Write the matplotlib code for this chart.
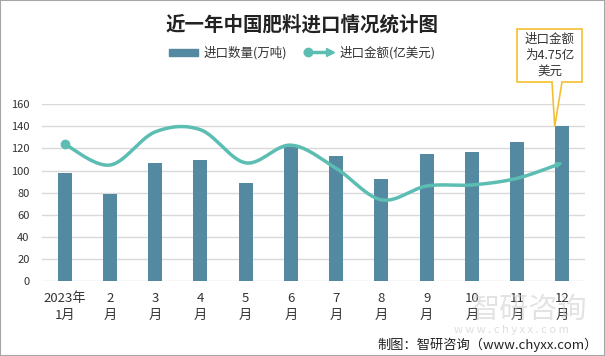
import numpy as np
import matplotlib
matplotlib.use("Agg")
import matplotlib.pyplot as plt
from matplotlib.lines import Line2D
from matplotlib.patches import Rectangle, Polygon, Patch
from matplotlib.legend_handler import HandlerBase

plt.rcParams['font.family'] = ['Noto Sans CJK SC', 'DejaVu Sans']

# data
months = ["2023年\n1月", "2\n月", "3\n月", "4\n月", "5\n月", "6\n月",
          "7\n月", "8\n月", "9\n月", "10\n月", "11\n月", "12\n月"]
qty = [98, 79, 107, 110, 89, 121, 113, 92, 115, 117, 126, 140]          # 万吨
amount = [124, 105, 135, 137, 107, 123, 102, 73.5, 86, 87, 93, 107]     # line, on the same scale
yticks = [0, 20, 40, 60, 80, 100, 120, 140, 160]

bar_color = '#5489a2'
line_color = '#5cbdb3'
yellow = '#f5c02f'


def smooth(xs, ys, n=30):
    # Excel-style smoothed line (Catmull-Rom bezier)
    xs = np.asarray(xs, float)
    ys = np.asarray(ys, float)
    px = np.concatenate([[xs[0]], xs, [xs[-1]]])
    py = np.concatenate([[ys[0]], ys, [ys[-1]]])
    outx, outy = [], []
    t = np.linspace(0, 1, n)
    for i in range(1, len(px) - 2):
        p0 = np.array([px[i], py[i]])
        p3 = np.array([px[i + 1], py[i + 1]])
        c1 = p0 + (np.array([px[i + 1], py[i + 1]]) - np.array([px[i - 1], py[i - 1]])) / 6
        c2 = p3 - (np.array([px[i + 2], py[i + 2]]) - np.array([px[i], py[i]])) / 6
        b = ((1 - t) ** 3)[:, None] * p0 + (3 * (1 - t) ** 2 * t)[:, None] * c1 \
            + (3 * (1 - t) * t ** 2)[:, None] * c2 + (t ** 3)[:, None] * p3
        outx.extend(b[:, 0])
        outy.extend(b[:, 1])
    return np.array(outx), np.array(outy)


class ArrowLineHandler(HandlerBase):
    def create_artists(self, legend, orig_handle, xdescent, ydescent,
                       width, height, fontsize, trans):
        y = height / 2 - ydescent
        ln = Line2D([0, width - 3], [y, y], color=line_color, lw=2.5, transform=trans)
        dot = Line2D([2], [y], marker='o', ms=6, color=line_color, transform=trans)
        tip = Line2D([width - 3], [y], marker='>', ms=6, color=line_color, transform=trans)
        return [ln, dot, tip]


fig = plt.figure(figsize=(6.05, 3.56), dpi=100)
ax = fig.add_axes([0.0694, 0.2107, 0.8976, 0.4963])

x = np.arange(len(months))
ax.bar(x, qty, width=0.31, color=bar_color, zorder=2)

sx, sy = smooth(x, amount)
ax.plot(sx[:-3], sy[:-3], color=line_color, lw=2.5, zorder=3, solid_capstyle='round')
ax.plot(x[0], amount[0], 'o', ms=6, color=line_color, zorder=4)
ax.annotate('', xy=(sx[-1], sy[-1]), xytext=(sx[-5], sy[-5]),
            arrowprops=dict(arrowstyle='-|>', color=line_color, lw=0,
                            mutation_scale=13, shrinkA=0, shrinkB=0), zorder=4)

ax.set_xlim(-0.5, len(months) - 0.5)
ax.set_ylim(0, 160)
ax.set_yticks(yticks)
ax.set_xticks(x)
ax.set_xticklabels(months, fontsize=9.5, linespacing=1.35, color='#333333')
ax.tick_params(axis='y', labelsize=8, length=0, pad=9, colors='#333333')
ax.tick_params(axis='x', length=0, pad=8)
ax.grid(axis='y', color='#d9d9d9', lw=1, zorder=0)
for s in ax.spines.values():
    s.set_visible(False)

fig.text(0.5, 0.93, '近一年中国肥料进口情况统计图', ha='center', va='center',
         fontsize=14, fontweight='bold', color='#222222')

handles = [Patch(color=bar_color), Line2D([], [])]
fig.legend(handles, ['进口数量(万吨)', '进口金额(亿美元)'],
           handler_map={handles[1]: ArrowLineHandler()},
           loc='center', bbox_to_anchor=(0.5, 0.851), ncol=2, frameon=False,
           fontsize=9, handlelength=2.3, handleheight=0.5, columnspacing=1.4,
           handletextpad=0.5, labelcolor='#333333')

# callout box for December
W, H = 605.0, 356.0
bx0, bx1, by0, by1 = 517 / W, 582 / W, 1 - 82 / H, 1 - 29 / H
fig.patches.append(Rectangle((bx0, by0), bx1 - bx0, by1 - by0, transform=fig.transFigure,
                             facecolor='white', edgecolor=yellow, lw=1.2, zorder=5))
tip_disp = ax.transData.transform((x[-1] - 0.17, qty[-1]))
tip = fig.transFigure.inverted().transform(tip_disp)
fig.patches.append(Polygon([(552 / W, by0), tip, (562 / W, by0)], closed=False,
                           transform=fig.transFigure, facecolor='white',
                           edgecolor=yellow, lw=1.2, zorder=6))
fig.patches.append(Rectangle((552.8 / W, by0 - 0.002), 8.5 / W, 0.006,
                             transform=fig.transFigure, facecolor='white',
                             edgecolor='none', zorder=7))
fig.text((bx0 + bx1) / 2, (by0 + by1) / 2, '进口金额\n为4.75亿\n美元', ha='center',
         va='center', fontsize=9, linespacing=1.3, color='#333333', zorder=8)

# watermark and source
fig.text(0.875, 0.13, '智研咨询', ha='center', va='center', fontsize=21,
         color='#c8c8c8', alpha=0.5)
fig.text(0.845, 0.072, 'w w w . c h y x x . c o m', ha='center', va='center',
         fontsize=8, color='#c8c8c8', alpha=0.6)
fig.text(0.988, 0.03, '制图：智研咨询（www.chyxx.com）', ha='right', va='center',
         fontsize=9.5, color='#222222')

fig.patches.append(Rectangle((0, 0), 1, 1, transform=fig.transFigure, fill=False,
                             edgecolor='#a6a6a6', lw=1.5))

fig.savefig('out.png', dpi=100)
